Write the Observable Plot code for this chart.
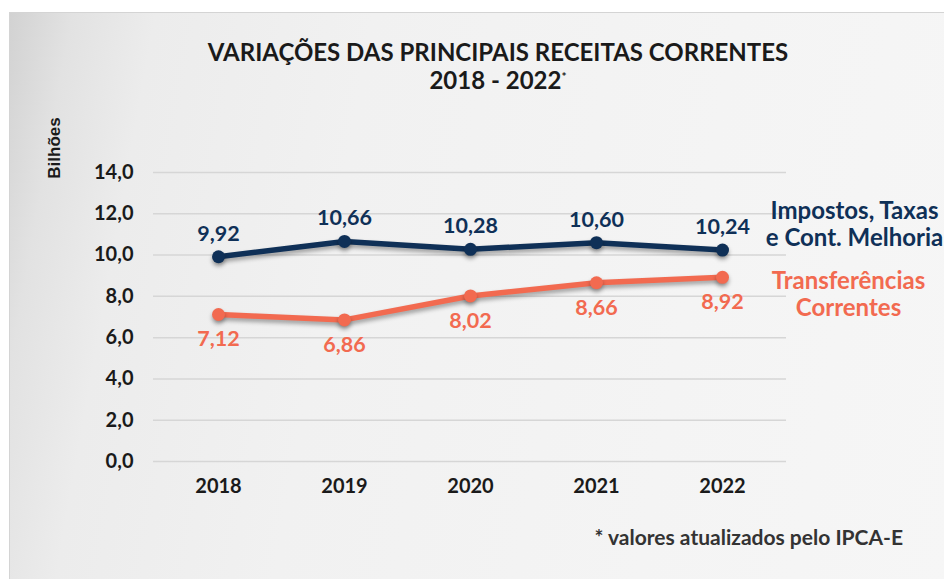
<!DOCTYPE html>
<html><head><meta charset="utf-8">
<script src="https://cdn.jsdelivr.net/npm/d3@7"></script>
<script src="https://cdn.jsdelivr.net/npm/@observablehq/plot@0.6"></script>
<style>
body{margin:0;background:#fff;font-family:Lato,sans-serif;}
#wrap{position:relative;width:944px;height:579px;overflow:hidden;background:#fff;}
#frame{position:absolute;left:9px;top:12px;width:940px;height:570px;border:1px solid #d4d4d4;
 background:linear-gradient(100deg,#d2d2d2 0%,#e2e2e2 6%,#ececec 14%,#f1f1f1 35%,#f4f4f4 70%,#f6f6f6 100%);}
#title{position:absolute;left:0;width:996px;top:38px;text-align:center;font-weight:700;font-size:24px;line-height:28px;color:#1a1a1a;}
#title sup{font-size:12px;vertical-align:top;position:relative;top:-3px;}
#ylab{position:absolute;left:55px;top:148px;transform:translate(-50%,-50%) rotate(-90deg);font-family:"Liberation Sans",Arial,sans-serif;font-weight:700;font-size:17px;color:#1a1a1a;white-space:nowrap;}
#note{position:absolute;right:41px;top:524px;font-weight:700;font-size:21px;color:#333;}
#chart{position:absolute;left:0;top:0;}
</style></head>
<body>
<div id="wrap">
<div id="frame"></div>
<div id="title">VARIAÇÕES DAS PRINCIPAIS RECEITAS CORRENTES<br>2018 - 2022<sup>*</sup></div>
<div id="ylab">Bilhões</div>
<div id="note">* valores atualizados pelo IPCA-E</div>
<div id="chart"></div>
</div>
<script>
const years = ["2018","2019","2020","2021","2022"];
const impostos = [9.92, 10.66, 10.28, 10.60, 10.24];
const transferencias = [7.12, 6.86, 8.02, 8.66, 8.92];
const yTicks = [0, 2, 4, 6, 8, 10, 12, 14];
const seriesNames = ["Impostos, Taxas\ne Cont. Melhoria", "Transferências\nCorrentes"];
const colors = ["#0f3057", "#f26a50"];

const fmt = v => v.toFixed(2).replace(".", ",");
const dataA = years.map((y, i) => ({year: y, value: impostos[i]}));
const dataB = years.map((y, i) => ({year: y, value: transferencias[i]}));

const chart = Plot.plot({
  width: 944, height: 579,
  marginTop: 172, marginBottom: 118, marginLeft: 153, marginRight: 158,
  style: {background: "transparent", fontFamily: "Lato, sans-serif"},
  x: {type: "point", domain: years, padding: 0.5, label: null},
  y: {domain: [0, 14], label: null},
  marks: [
    Plot.gridY(yTicks, {stroke: "#d6d6d6", strokeOpacity: 1, strokeWidth: 1.5}),
    Plot.axisY(yTicks, {tickSize: 0, tickPadding: 20, tickFormat: d => d.toFixed(1).replace(".", ","), fontSize: 20, fontWeight: 700, fill: "#1a1a1a", label: null}),
    Plot.axisX({tickSize: 0, tickPadding: 17, fontSize: 20, fontWeight: 700, fill: "#1a1a1a", label: null}),
    Plot.line(dataA, {x: "year", y: "value", stroke: colors[0], strokeWidth: 5.5}),
    Plot.line(dataB, {x: "year", y: "value", stroke: colors[1], strokeWidth: 5.5}),
    Plot.dot(dataA, {x: "year", y: "value", fill: colors[0], r: 6.5}),
    Plot.dot(dataB, {x: "year", y: "value", fill: colors[1], r: 6.5}),
    Plot.text(dataA, {x: "year", y: "value", text: d => fmt(d.value), dy: -23, fill: colors[0], fontSize: 21.5, fontWeight: 700}),
    Plot.text(dataB, {x: "year", y: "value", text: d => fmt(d.value), dy: 25, fill: colors[1], fontSize: 21.5, fontWeight: 700}),
    Plot.text([dataA[dataA.length-1]], {x: "year", y: "value", text: () => seriesNames[0], dx: 132, dy: -26, fill: colors[0], fontSize: 24, fontWeight: 700, lineHeight: 1.12}),
    Plot.text([dataB[dataB.length-1]], {x: "year", y: "value", text: () => seriesNames[1], dx: 126, dy: 16.5, fill: colors[1], fontSize: 24, fontWeight: 700, lineHeight: 1.12})
  ]
});
chart.querySelectorAll('g[aria-label="line"], g[aria-label="dot"]').forEach(g => {
  g.style.filter = "drop-shadow(0px 3px 2px rgba(0,0,0,0.35))";
});
document.getElementById("chart").appendChild(chart);
</script>
</body></html>
